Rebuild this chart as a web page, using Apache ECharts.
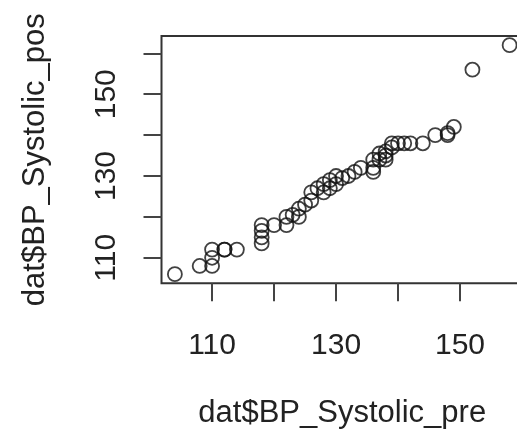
<!DOCTYPE html>
<html>
<head>
<meta charset="utf-8">
<script src="https://cdn.jsdelivr.net/npm/echarts@6/dist/echarts.min.js"></script>
<style>
html,body{margin:0;padding:0;background:#fff;overflow:hidden;width:517px;height:440px;}
#c{width:545px;height:440px;}
</style>
</head>
<body>
<div id="c"></div>
<script>
// Data
const preValues  = [104,108,110,110,110,112,112,114,118,118,118,118,120,122,122,124,124,123,126,126,125,128,128,127,129,130,130,129,131,132,134,133,136,136,136,137,138,138,138,139,137,139,140,141,142,144,146,148,149,148,152,158];
const postValues = [106,108,108,110,112,112,112,112,118,116.6,115,113.5,118,118,120,120,122,120.5,124,126,123,126,128,127,127,130,128,129,129.5,130,132,131,134,132,131,134,135,136,134,137,135.5,138,138,138,138,138,140,140,142,140.5,156,162];
const xTicks = [110,120,130,140,150,160];
const xLabels = [110,130,150];
const yTicks = [110,120,130,140,150,160];
const yLabels = [110,130,150];
const xName = 'dat$BP_Systolic_pre';
const yName = 'dat$BP_Systolic_pos';

const points = preValues.map((v,i)=>[v, postValues[i]]);
function padRange(arr){
  const mn = Math.min(...arr), mx = Math.max(...arr), r = mx-mn;
  return [mn-0.04*r, mx+0.04*r];
}
const xr = padRange(preValues), yr = padRange(postValues);

const font = '"Liberation Sans", Arial, Helvetica, sans-serif';
const txt = '#222';
const chart = echarts.init(document.getElementById('c'), null, {renderer:'canvas'});
chart.setOption({
  animation:false,
  backgroundColor:'#fff',
  grid:{left:161.5, top:36, right:22, bottom:156.7, show:true, borderColor:'#333', borderWidth:2, backgroundColor:'transparent'},
  xAxis:{
    type:'value', min:xr[0], max:xr[1],
    name:xName, nameLocation:'middle', nameGap:115,
    nameTextStyle:{fontFamily:font, fontSize:31, color:txt},
    axisLine:{show:false},
    splitLine:{show:false},
    axisTick:{show:true, inside:false, length:18, customValues:xTicks, lineStyle:{color:'#444', width:2}},
    axisLabel:{show:true, margin:47, customValues:xLabels, fontFamily:font, fontSize:30, color:txt}
  },
  yAxis:{
    type:'value', min:yr[0], max:yr[1],
    name:yName, nameLocation:'middle', nameGap:111, nameRotate:90,
    nameTextStyle:{fontFamily:font, fontSize:31, color:txt},
    axisLine:{show:false},
    splitLine:{show:false},
    axisTick:{show:true, inside:false, length:18, customValues:yTicks, lineStyle:{color:'#444', width:2}},
    axisLabel:{show:true, rotate:90, margin:40, customValues:yLabels, fontFamily:font, fontSize:30, color:txt}
  },
  series:[{
    type:'scatter',
    data:points,
    symbol:'circle',
    symbolSize:14,
    itemStyle:{color:'rgba(0,0,0,0)', borderColor:'#111', borderWidth:1.8},
    emphasis:{disabled:true},
    clip:false
  }]
});
</script>
</body>
</html>
